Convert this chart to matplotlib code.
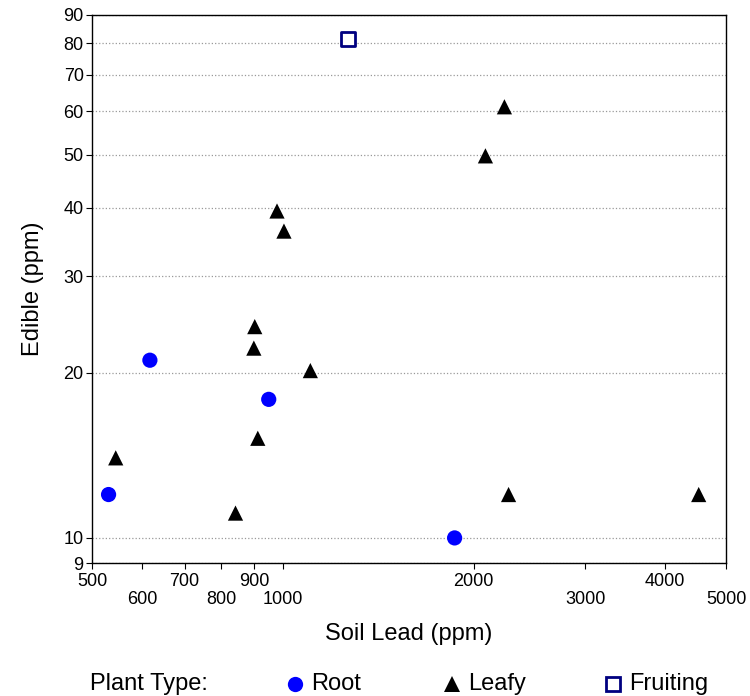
import matplotlib.pyplot as plt
from matplotlib.lines import Line2D
from matplotlib.ticker import NullLocator, FixedLocator

plt.rcParams['font.family'] = ['Liberation Sans', 'DejaVu Sans']

# data (soil lead ppm, edible ppm)
root_x = [531, 617, 950, 1866]
root_y = [12.0, 21.1, 17.9, 10.0]
leafy_x = [545, 842, 903, 900, 913, 979, 1004, 1105, 2087, 2236, 2270, 4528]
leafy_y = [14.0, 11.1, 24.3, 22.2, 15.2, 39.5, 36.3, 20.2, 49.8, 61.2, 12.0, 12.0]
fruit_x = [1266]
fruit_y = [81.5]

xticks = [500, 600, 700, 800, 900, 1000, 2000, 3000, 4000, 5000]
yticks = [9, 10, 20, 30, 40, 50, 60, 70, 80, 90]

fig = plt.figure(figsize=(7.5, 6.96), dpi=100)
ax = fig.add_axes([92/750, 133/696, 634/750, 548/696])
ax.set_xscale('log')
ax.set_yscale('log')
ax.set_xlim(500, 5000)
ax.set_ylim(9, 90)

ax.scatter(root_x, root_y, marker='o', s=120, color='#0000ff', edgecolors='none', zorder=3)
ax.scatter(leafy_x, leafy_y, marker='^', s=120, color='black', edgecolors='none', zorder=3)
ax.scatter(fruit_x, fruit_y, marker='s', s=95, facecolors='white', edgecolors='#000080', linewidths=2, zorder=3)

ax.xaxis.set_major_locator(FixedLocator(xticks))
ax.xaxis.set_minor_locator(NullLocator())
ax.yaxis.set_major_locator(FixedLocator(yticks))
ax.yaxis.set_minor_locator(NullLocator())
ax.set_xticklabels([str(t) for t in xticks])
ax.set_yticklabels([str(t) for t in yticks])

ax.tick_params(axis='x', direction='out', length=4, labelsize=13, pad=3)
ax.tick_params(axis='y', direction='out', length=4, labelsize=13, pad=2)
# staggered x labels: every second one on a lower row
for i, tk in enumerate(ax.xaxis.get_major_ticks()):
    if i % 2 == 1:
        tk.set_pad(16)

ax.yaxis.grid(True, color='#999999', linestyle=':', linewidth=0.9)
ax.set_axisbelow(True)
for sp in ax.spines.values():
    sp.set_color('black')
    sp.set_linewidth(1)

ax.set_xlabel('Soil Lead (ppm)', fontsize=17, labelpad=11)
ax.set_ylabel('Edible (ppm)', fontsize=17, labelpad=14)

# legend row drawn by hand
ly = 1 - 684/696
fig.text(90/750, ly, 'Plant Type:', fontsize=17, va='center', ha='left')
leg = [('o', '#0000ff', '#0000ff', 'Root', 295),
       ('^', 'black', 'black', 'Leafy', 452),
       ('s', 'white', '#000080', 'Fruiting', 613)]
for m, fc, ec, name, px in leg:
    fig.add_artist(Line2D([px/750], [ly], marker=m, markersize=11 if m != 's' else 10,
                          markerfacecolor=fc, markeredgecolor=ec,
                          markeredgewidth=2 if m == 's' else 0, linestyle='none',
                          transform=fig.transFigure))
    fig.text((px + 16)/750, ly, name, fontsize=17, va='center', ha='left')

fig.savefig('out.png', dpi=100)
